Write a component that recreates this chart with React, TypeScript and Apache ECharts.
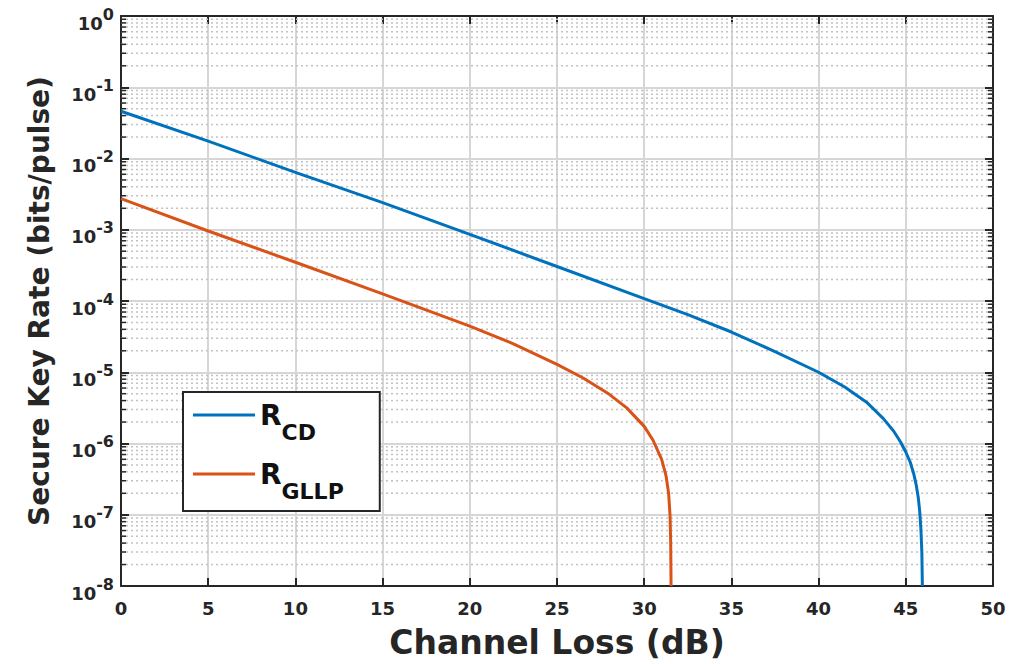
import React, { useEffect, useRef } from "react";
import * as echarts from "echarts";

// ---- data ----
const seriesNames = ["RCD", "RGLLP"];
const seriesColors = ["#0072BD", "#D95319"];

const lossCD = [0, 5, 10, 15, 20, 25, 30, 32.5, 35, 37.5, 40, 41.5, 42.75, 43.7, 44.3, 44.7, 45.0, 45.25, 45.45, 45.6, 45.72, 45.8, 45.87, 45.92, 45.95];
const rateCD = [4.6e-2, 1.75e-2, 6.4e-3, 2.4e-3, 8.6e-4, 3.05e-4, 1.08e-4, 6.45e-5, 3.67e-5, 1.95e-5, 1.0e-5, 6.2e-6, 3.8e-6, 2.25e-6, 1.5e-6, 1.05e-6, 7.6e-7, 5.5e-7, 3.8e-7, 2.6e-7, 1.7e-7, 1.1e-7, 6.0e-8, 3.0e-8, 1e-8];

const lossGLLP = [0, 5, 10, 15, 20, 22.5, 25, 26.5, 28, 29, 30, 30.5, 31.0, 31.25, 31.4, 31.48, 31.52, 31.54];
const rateGLLP = [2.73e-3, 9.6e-4, 3.5e-4, 1.26e-4, 4.45e-5, 2.51e-5, 1.29e-5, 8.3e-6, 4.9e-6, 3.16e-6, 1.74e-6, 1.12e-6, 6.0e-7, 3.55e-7, 2.0e-7, 1.0e-7, 4.0e-8, 1e-8];

const xMin = 0;
const xMax = 50;
const xInterval = 5;
const yMin = 1e-8;
const yMax = 1;
const minorDecades = [-8, -7, -6, -5, -4, -3, -2, -1];
const minorMultipliers = [2, 3, 4, 5, 6, 7, 8, 9];

const xTitle = "Channel Loss (dB)";
const yTitle = "Secure Key Rate (bits/pulse)";

const FONT = "'DejaVu Sans', sans-serif";
const AXIS_COLOR = "#262626";
const GRID_COLOR = "#d6d6d6";
const MINOR_COLOR = "#c2c2c2";

export default function App() {
  const ref = useRef<HTMLDivElement>(null);

  useEffect(() => {
    if (!ref.current) return;
    const chart = echarts.init(ref.current, undefined, { renderer: "svg" });

    const minorValues: number[][] = [];
    minorDecades.forEach((d) => {
      minorMultipliers.forEach((m) => {
        minorValues.push([xMin, m * Math.pow(10, d)]);
      });
    });

    const subscript: Record<string, string> = { RCD: "CD", RGLLP: "GLLP" };

    const option: any = {
      animation: false,
      backgroundColor: "#ffffff",
      grid: { left: 121, top: 16, right: 28, bottom: 76, containLabel: false },
      legend: {
        data: seriesNames,
        orient: "vertical",
        left: 183,
        top: 392,
        padding: [9, 36, 9, 10],
        itemGap: 17,
        itemWidth: 62,
        itemHeight: 3,
        itemTextGap: 7,
        icon: "rect",
        backgroundColor: "#ffffff",
        borderColor: AXIS_COLOR,
        borderWidth: 2,
        borderRadius: 0,
        selectedMode: false,
        formatter: (name: string) => `{r|R}{s|${subscript[name]}}`,
        textStyle: {
          rich: {
            r: {
              fontSize: 28,
              fontWeight: "bold",
              fontFamily: FONT,
              color: "#111111",
              lineHeight: 28,
              verticalAlign: "top",
            },
            s: {
              fontSize: 22,
              fontWeight: "bold",
              fontFamily: FONT,
              color: "#111111",
              lineHeight: 22,
              padding: [20, 0, 0, 0],
              verticalAlign: "top",
            },
          },
        },
      },
      xAxis: [
        {
          type: "value",
          min: xMin,
          max: xMax,
          interval: xInterval,
          position: "bottom",
          name: xTitle,
          nameLocation: "middle",
          nameGap: 40,
          nameTextStyle: { fontSize: 33, fontWeight: "bold", fontFamily: FONT, color: AXIS_COLOR },
          axisLine: { show: true, onZero: false, lineStyle: { color: AXIS_COLOR, width: 2 } },
          axisTick: { show: true, inside: true, length: 8, lineStyle: { color: AXIS_COLOR, width: 2 } },
          axisLabel: { fontSize: 18, fontWeight: "bold", fontFamily: FONT, color: AXIS_COLOR, margin: 13 },
          splitLine: { show: true, lineStyle: { color: GRID_COLOR, width: 2 } },
        },
        {
          type: "value",
          min: xMin,
          max: xMax,
          interval: xInterval,
          position: "top",
          axisLine: { show: true, onZero: false, lineStyle: { color: AXIS_COLOR, width: 2 } },
          axisTick: { show: true, inside: true, length: 8, lineStyle: { color: AXIS_COLOR, width: 2 } },
          axisLabel: { show: false },
          splitLine: { show: false },
        },
      ],
      yAxis: [
        {
          type: "log",
          logBase: 10,
          min: yMin,
          max: yMax,
          interval: 1,
          position: "left",
          name: yTitle,
          nameLocation: "middle",
          nameGap: 68,
          nameRotate: 90,
          nameTextStyle: { fontSize: 28, fontWeight: "bold", fontFamily: FONT, color: AXIS_COLOR },
          axisLine: { show: true, onZero: false, lineStyle: { color: AXIS_COLOR, width: 2 } },
          axisTick: { show: true, inside: true, length: 8, lineStyle: { color: AXIS_COLOR, width: 2 } },
          axisLabel: {
            margin: 7,
            formatter: (v: number) => `{b|10}{e|${Math.round(Math.log10(v))}}`,
            rich: {
              b: {
                fontSize: 18,
                fontWeight: "bold",
                fontFamily: FONT,
                color: AXIS_COLOR,
                lineHeight: 20,
                padding: [8, 0, 0, 0],
                verticalAlign: "top",
              },
              e: {
                fontSize: 16,
                fontWeight: "bold",
                fontFamily: FONT,
                color: AXIS_COLOR,
                lineHeight: 16,
                verticalAlign: "top",
              },
            },
          },
          splitLine: { show: true, lineStyle: { color: GRID_COLOR, width: 2 } },
        },
        {
          type: "log",
          logBase: 10,
          min: yMin,
          max: yMax,
          interval: 1,
          position: "right",
          axisLine: { show: true, onZero: false, lineStyle: { color: AXIS_COLOR, width: 2 } },
          axisTick: { show: true, inside: true, length: 8, lineStyle: { color: AXIS_COLOR, width: 2 } },
          axisLabel: { show: false },
          splitLine: { show: false },
        },
      ],
      series: [
        {
          type: "custom",
          name: "minor",
          silent: true,
          z: 1,
          xAxisIndex: 0,
          yAxisIndex: 0,
          data: minorValues,
          renderItem: (params: any, api: any) => {
            const cs = params.coordSys;
            const p = api.coord([api.value(0), api.value(1)]);
            const y = p[1];
            return {
              type: "group",
              children: [
                {
                  type: "line",
                  shape: { x1: cs.x, y1: y, x2: cs.x + cs.width, y2: y },
                  style: { stroke: MINOR_COLOR, lineWidth: 1.5, lineDash: [2, 3] },
                },
                {
                  type: "line",
                  shape: { x1: cs.x, y1: y, x2: cs.x + 5, y2: y },
                  style: { stroke: AXIS_COLOR, lineWidth: 1.5 },
                },
                {
                  type: "line",
                  shape: { x1: cs.x + cs.width - 5, y1: y, x2: cs.x + cs.width, y2: y },
                  style: { stroke: AXIS_COLOR, lineWidth: 1.5 },
                },
              ],
            };
          },
        },
        {
          type: "line",
          name: seriesNames[0],
          data: lossCD.map((x, i) => [x, rateCD[i]]),
          showSymbol: false,
          symbol: "none",
          smooth: false,
          z: 5,
          lineStyle: { color: seriesColors[0], width: 3, join: "round" },
          itemStyle: { color: seriesColors[0] },
        },
        {
          type: "line",
          name: seriesNames[1],
          data: lossGLLP.map((x, i) => [x, rateGLLP[i]]),
          showSymbol: false,
          symbol: "none",
          smooth: false,
          z: 5,
          lineStyle: { color: seriesColors[1], width: 3, join: "round" },
          itemStyle: { color: seriesColors[1] },
        },
      ],
    };

    chart.setOption(option);
    return () => chart.dispose();
  }, []);

  return (
    <div
      ref={ref}
      style={{ position: "fixed", left: 0, top: 0, width: 1021, height: 664, background: "#fff" }}
    />
  );
}
